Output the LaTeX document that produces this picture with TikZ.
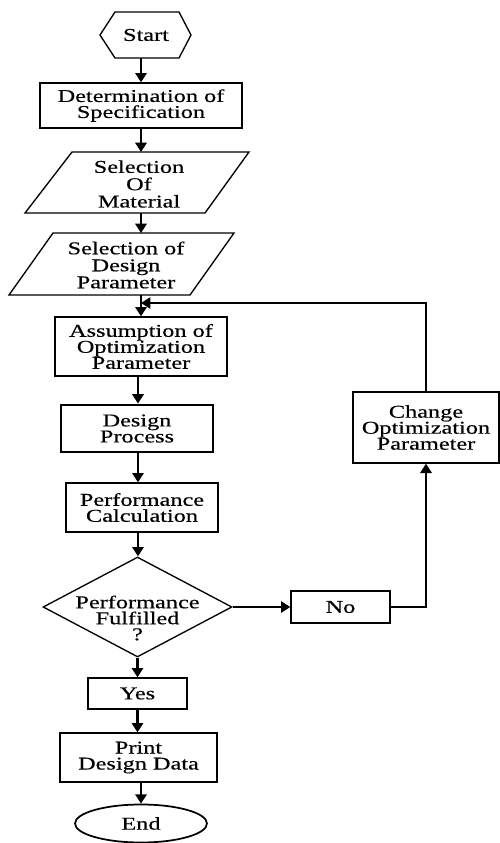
\documentclass[tikz,border=0pt]{standalone}
\usepackage{fontspec}
\setmainfont{Liberation Serif}[FakeStretch=1.35,FakeBold=0.4]
\usetikzlibrary{arrows.meta,shapes.geometric}
\tikzset{
  box/.style={draw, line width=1pt, inner sep=0pt, align=center, font=\fontsize{13.5pt}{12pt}\selectfont},
  txt/.style={inner sep=0pt, align=center, font=\fontsize{13.5pt}{12pt}\selectfont},
  shp/.style={draw, line width=1pt, line join=miter},
  arr/.style={line width=1.6pt, -{Triangle[length=7pt,width=8.5pt]}},
}
\begin{document}
\begin{tikzpicture}[x=0.75pt,y=-0.75pt]
\path[use as bounding box] (0,0) rectangle (500,843);
% Start hexagon
\draw[shp] (100,35) -- (115,12) -- (179,12) -- (191,35) -- (179,58) -- (115,58) -- cycle;
\node[txt] (start) at (146,35) {Start};
\coordinate (startb) at (141,58);
% Determination
\node[box, minimum width=151.5pt, minimum height=33.75pt] (det) at (141,105.5) {Determination of\\Specification};
% Material parallelogram
\draw[shp] (72,152) -- (249,152) -- (205,213) -- (25,213) -- cycle;
\node[txt, font=\fontsize{13.5pt}{13pt}\selectfont] (mat) at (139,184) {Selection\\Of\\Material};
\coordinate (matT) at (141,152);
\coordinate (matB) at (141,213);
% Design parameter parallelogram
\draw[shp] (53,233) -- (234,233) -- (190,295) -- (9,295) -- cycle;
\node[txt, font=\fontsize{13.5pt}{12.75pt}\selectfont] (dp) at (126,265) {Selection of\\Design\\Parameter};
\coordinate (dpT) at (141,233);
\coordinate (dpB) at (141,295);
% Assumption
\node[box, minimum width=129pt, minimum height=44.25pt] (assump) at (141,346.5) {Assumption of\\Optimization\\Parameter};
% Design process
\node[box, line width=2.2pt, minimum width=114pt, minimum height=35.25pt] (design) at (137,428.5) {Design\\Process};
% Performance calculation
\node[box, minimum width=114pt, minimum height=36.75pt] (perf) at (142,507.5) {Performance\\Calculation};
% Decision
\node[shp, diamond, inner sep=0pt, minimum width=141.75pt, minimum height=75pt] (dec) at (137.5,607) {};
\node[txt] (dectxt) at (137.5,618) {Performance\\Fulfilled\\?};
% No
\node[box, minimum width=74.25pt, minimum height=24pt] (no) at (340.5,607) {No};
% Change
\node[box, minimum width=109.5pt, minimum height=53.25pt] (change) at (426,427.5) {Change\\Optimization\\Parameter};
% Yes
\node[box, minimum width=74.25pt, minimum height=23.25pt] (yes) at (137.5,693.5) {Yes};
% Print
\node[box, minimum width=117.75pt, minimum height=36.75pt] (print) at (138.5,757.5) {Print\\Design Data};
% End
\node[box, ellipse, line width=1.3pt, minimum width=99pt, minimum height=28.5pt] (end) at (141,823.5) {End};
\coordinate (join) at (141,303);
\coordinate (perfout) at (138,532);
% connectors
\draw[arr] (startb) -- (det);
\draw[arr] (det) -- (matT);
\draw[arr] (matB) -- (dpT);
\draw[arr] (dpB) -- (assump);
\draw[arr] (assump.south -| 138,0) -- (design.north -| 138,0);
\draw[arr] (design.south -| 138,0) -- (perf.north -| 138,0);
\draw[arr] (perf.south -| 138,0) -- (dec.north -| 138,0);
\draw[arr] (dec.south) -- (yes.north);
\draw[arr] (yes.south) -- (yes.south |- print.north);
\draw[arr] (end.north |- print.south) -- (end.north);
\draw[arr] (dec.east) -- (no.west);
\draw[arr] (no.east) -| (change.south);
\draw[arr, line width=1.1pt] (change.north) |- (join);
\end{tikzpicture}
\end{document}
